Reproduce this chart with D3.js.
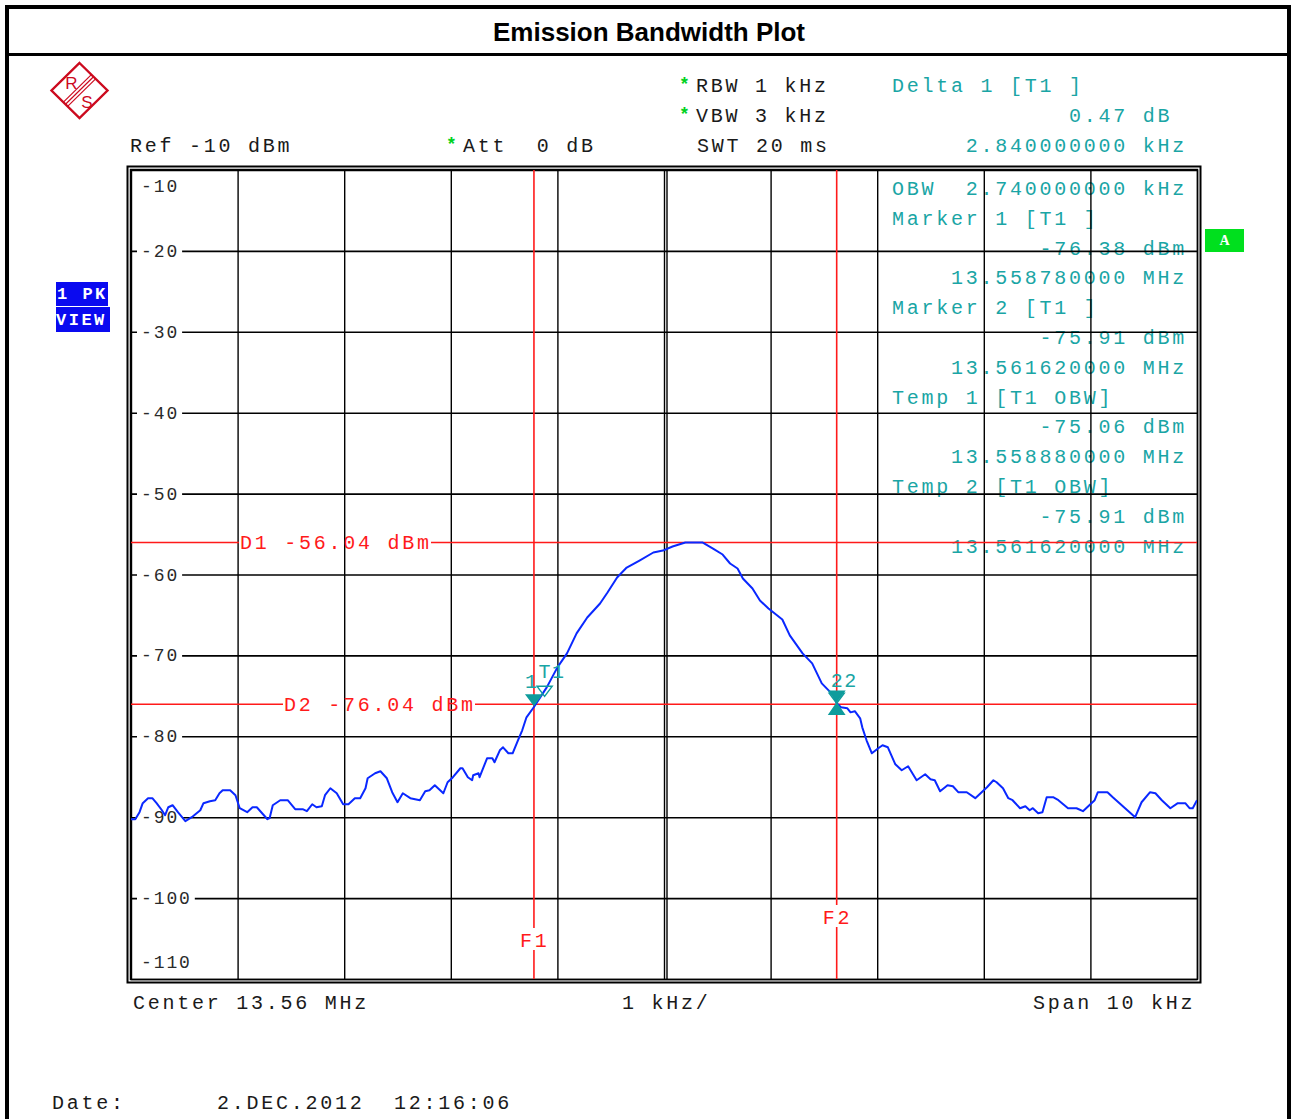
<!DOCTYPE html>
<html>
<head>
<meta charset="utf-8">
<script src="https://cdn.jsdelivr.net/npm/d3@7"></script>
<style>
  html, body { margin: 0; padding: 0; background: #fff; overflow: hidden; }
  svg { display: block; }
  .mono { font-family: "Liberation Mono", "DejaVu Sans Mono", monospace; white-space: pre; }
</style>
</head>
<body>
<svg id="chart" width="1293" height="1119"></svg>
<script>
// ---- Sweep settings ----
const centerMHz = 13.56;
const spanKHz = 10;
const levelTicks = [-10, -20, -30, -40, -50, -60, -70, -80, -90, -100, -110];

// ---- Trace (offset from center in kHz, level in dBm) ----
const traceOffsetKHz = [
  -5.00, -4.96, -4.92, -4.89, -4.84, -4.80, -4.76, -4.71, -4.68, -4.65,
  -4.61, -4.56, -4.49, -4.43, -4.35, -4.32, -4.26, -4.21, -4.17, -4.14,
  -4.07, -4.02, -3.98, -3.91, -3.86, -3.82, -3.77, -3.72, -3.70, -3.67,
  -3.60, -3.53, -3.46, -3.39, -3.35, -3.30, -3.26, -3.21, -3.18, -3.13,
  -3.07, -3.01, -2.96, -2.90, -2.85, -2.80, -2.78, -2.71, -2.66, -2.60,
  -2.55, -2.50, -2.45, -2.38, -2.29, -2.24, -2.20, -2.15, -2.07, -2.03,
  -1.98, -1.91, -1.89, -1.84, -1.80, -1.79, -1.74, -1.73, -1.66, -1.61,
  -1.59, -1.54, -1.51, -1.46, -1.42, -1.37, -1.33, -1.29, -1.22, -1.18,
  -1.10, -1.00, -0.91, -0.82, -0.72, -0.60, -0.53, -0.44, -0.35, -0.23,
  -0.10, -0.01, 0.08, 0.20, 0.36, 0.46, 0.55, 0.62, 0.69, 0.74,
  0.83, 0.90, 0.98, 1.11, 1.18, 1.30, 1.39, 1.48, 1.59, 1.62,
  1.66, 1.72, 1.75, 1.79, 1.84, 1.86, 1.90, 1.95, 2.01, 2.05,
  2.10, 2.17, 2.23, 2.29, 2.37, 2.45, 2.50, 2.54, 2.59, 2.66,
  2.71, 2.76, 2.84, 2.92, 2.98, 3.03, 3.09, 3.12, 3.18, 3.23,
  3.27, 3.34, 3.39, 3.43, 3.46, 3.51, 3.55, 3.59, 3.65, 3.70,
  3.79, 3.87, 3.93, 4.04, 4.07, 4.16, 4.21, 4.42, 4.48, 4.56,
  4.61, 4.67, 4.75, 4.82, 4.89, 4.93, 4.96, 5.00
];
const traceLevelDbm = [
  -90.25, -90.25, -89.38, -88.27, -87.65, -87.65, -88.27, -89.14, -89.75, -88.77,
  -88.52, -89.38, -90.49, -90.00, -89.14, -88.27, -88.02, -87.90, -87.04, -86.67,
  -86.67, -87.28, -88.89, -89.38, -88.77, -88.77, -89.51, -90.25, -90.12, -88.52,
  -87.90, -87.90, -89.01, -89.01, -89.26, -88.40, -88.77, -88.64, -87.28, -86.42,
  -87.04, -88.40, -88.40, -87.65, -87.65, -86.42, -85.19, -84.57, -84.32, -85.19,
  -86.91, -88.15, -87.04, -87.65, -87.90, -86.79, -86.67, -86.05, -87.04, -85.68,
  -85.06, -83.95, -83.95, -85.06, -85.43, -84.81, -84.57, -85.06, -82.72, -82.72,
  -83.21, -81.73, -81.36, -82.10, -82.10, -80.49, -79.26, -77.65, -76.38, -75.56,
  -73.95, -71.48, -69.75, -67.28, -65.31, -63.58, -62.22, -60.37, -59.14, -58.27,
  -57.28, -57.04, -56.54, -56.04, -56.04, -56.79, -57.53, -58.64, -59.26, -60.49,
  -61.73, -63.21, -64.20, -65.56, -67.53, -69.75, -70.99, -73.46, -74.94, -75.91,
  -76.42, -76.54, -77.04, -76.90, -77.78, -78.89, -80.49, -82.10, -81.48, -81.11,
  -81.36, -83.46, -84.20, -83.70, -85.43, -84.69, -85.31, -85.43, -86.79, -86.05,
  -86.17, -86.91, -86.91, -87.65, -86.91, -86.30, -85.43, -85.68, -86.42, -87.65,
  -87.90, -88.89, -88.64, -89.14, -88.89, -89.51, -89.38, -87.53, -87.53, -87.90,
  -88.89, -88.89, -89.26, -87.90, -86.91, -86.91, -87.53, -90.00, -88.15, -86.91,
  -87.04, -87.90, -88.89, -88.27, -88.27, -88.89, -88.89, -87.90
];

// ---- Markers ----
const markerLabels = ["1", "2"];
const markerFreqMHz = [13.55878, 13.56162];
const markerLevelDbm = [-76.38, -75.91];
const tempFreqMHz = [13.55888, 13.56162];
const tempLevelDbm = [-75.06, -75.91];
const deltaKHz = 2.84;
const deltaDb = 0.47;

// ---- Display / frequency lines ----
const displayLineNames = ["D1", "D2"];
const displayLineDbm = [-56.04, -76.04];
const freqLineNames = ["F1", "F2"];
const freqLineMHz = [13.55878, 13.56162];

// ---- Marker readout lines ([text, column]) ----
const readoutAbove = [
  ["Delta 1 [T1 ]", 0], ["0.47 dB", 12], ["2.840000000 kHz", 5]
];
const readoutInside = [
  ["OBW  2.740000000 kHz", 0],
  ["Marker 1 [T1 ]", 0], ["-76.38 dBm", 10], ["13.558780000 MHz", 4],
  ["Marker 2 [T1 ]", 0], ["-75.91 dBm", 10], ["13.561620000 MHz", 4],
  ["Temp 1 [T1 OBW]", 0], ["-75.06 dBm", 10], ["13.558880000 MHz", 4],
  ["Temp 2 [T1 OBW]", 0], ["-75.91 dBm", 10], ["13.561620000 MHz", 4]
];

// ---- Layout ----
const W = 1293, H = 1119;
const plot = { left: 131, right: 1197, top: 170, bottom: 979 };
const ADV = 14.75;           // monospace character pitch
const FS = 20;               // monospace font size
const LS = ADV - FS * 0.6;   // letter spacing giving that pitch
const TEAL = "#1aa5a5";
const RED = "#ff1a1a";

const svg = d3.select("#chart");

const x = d3.scaleLinear()
  .domain([centerMHz - spanKHz / 2000, centerMHz + spanKHz / 2000])
  .range([plot.left, plot.right]);
const y = d3.scaleLinear()
  .domain([levelTicks[0], levelTicks[levelTicks.length - 1]])
  .range([plot.top, plot.bottom]);

function mono(parent, str, px, baseY, opts = {}) {
  return parent.append("text")
    .attr("class", "mono")
    .attr("x", px)
    .attr("y", baseY)
    .attr("font-size", opts.size || FS)
    .attr("letter-spacing", opts.spacing != null ? opts.spacing : LS)
    .attr("font-weight", opts.weight || "normal")
    .attr("fill", opts.color || "#1a1a1a")
    .text(str);
}

// ---- Page frame and title ----
svg.append("rect").attr("x", 0).attr("y", 0).attr("width", W).attr("height", H).attr("fill", "#fff");
svg.append("rect")
  .attr("x", 7).attr("y", 7).attr("width", 1282).attr("height", 1140)
  .attr("fill", "none").attr("stroke", "#000").attr("stroke-width", 4);
svg.append("line")
  .attr("x1", 7).attr("x2", 1289).attr("y1", 54.5).attr("y2", 54.5)
  .attr("stroke", "#000").attr("stroke-width", 3);
svg.append("text")
  .attr("x", 649).attr("y", 41)
  .attr("text-anchor", "middle")
  .attr("font-family", "'Liberation Sans', Arial, sans-serif")
  .attr("font-weight", "bold")
  .attr("font-size", 26)
  .attr("fill", "#000")
  .text("Emission Bandwidth Plot");

// ---- Logo ----
const logo = svg.append("g").attr("transform", "translate(79.5,90.5)");
const LR = "#cc0a1e";
logo.append("path")
  .attr("d", "M0,-27.5 L28,0 L0,27.5 L-28,0 Z")
  .attr("fill", "none").attr("stroke", LR).attr("stroke-width", 2.4);
[-3, 0, 3].forEach(o => {
  const nx = o * Math.SQRT1_2, ny = o * Math.SQRT1_2;
  logo.append("line")
    .attr("x1", 14 + nx).attr("y1", -13.75 + ny)
    .attr("x2", -14 + nx).attr("y2", 13.75 + ny)
    .attr("stroke", LR).attr("stroke-width", 1.2);
});
logo.append("text").attr("x", -8).attr("y", -2).attr("text-anchor", "middle")
  .attr("font-family", "'Liberation Sans', Arial, sans-serif").attr("font-size", 17)
  .attr("fill", LR).text("R");
logo.append("text").attr("x", 7.5).attr("y", 17).attr("text-anchor", "middle")
  .attr("font-family", "'Liberation Sans', Arial, sans-serif").attr("font-size", 17)
  .attr("fill", LR).text("S");

// ---- Header settings ----
const GREEN = "#00d21e";
mono(svg, "Ref -10 dBm", 130, 152);
mono(svg, "*", 446, 150, { color: GREEN, weight: "bold", size: 18, spacing: 0 });
mono(svg, "Att  0 dB", 463, 152);
mono(svg, "*", 679, 90, { color: GREEN, weight: "bold", size: 18, spacing: 0 });
mono(svg, "RBW 1 kHz", 696, 92);
mono(svg, "*", 679, 120, { color: GREEN, weight: "bold", size: 18, spacing: 0 });
mono(svg, "VBW 3 kHz", 696, 122);
mono(svg, "SWT 20 ms", 697, 152);

// ---- Readout table (drawn under the grid) ----
const readoutLeft = 892;
readoutAbove.forEach(([t, col], i) => mono(svg, t, readoutLeft + col * ADV, 92 + i * 30, { color: TEAL }));
readoutInside.forEach(([t, col], i) => mono(svg, t, readoutLeft + col * ADV, 195 + i * 29.8, { color: TEAL }));

// ---- Trace window badges ----
svg.append("rect").attr("x", 56).attr("y", 282).attr("width", 52).attr("height", 24).attr("fill", "#0a0af0");
svg.append("rect").attr("x", 56).attr("y", 307).attr("width", 54).attr("height", 25).attr("fill", "#0a0af0");
mono(svg, "1 PK", 57, 299, { color: "#fff", weight: "bold", size: 17, spacing: 2.5 });
mono(svg, "VIEW", 56, 325, { color: "#fff", weight: "bold", size: 17, spacing: 2.5 });
svg.append("rect").attr("x", 1205).attr("y", 229).attr("width", 39).attr("height", 23).attr("fill", "#00e01e");
svg.append("text").attr("x", 1224.5).attr("y", 245).attr("text-anchor", "middle")
  .attr("font-family", "'Liberation Serif', serif").attr("font-weight", "bold")
  .attr("font-size", 14).attr("fill", "#fff").text("A");

// ---- Grid via axes ----
const gridX = svg.append("g")
  .attr("transform", `translate(0,${plot.bottom})`)
  .call(d3.axisBottom(x).ticks(10).tickSize(-(plot.bottom - plot.top)).tickFormat(""));
gridX.select(".domain").remove();
gridX.selectAll("line").attr("stroke", "#000").attr("stroke-width", 1.4);

// double line through the center frequency
svg.append("line")
  .attr("x1", x(centerMHz) + 3).attr("x2", x(centerMHz) + 3)
  .attr("y1", plot.top).attr("y2", plot.bottom)
  .attr("stroke", "#000").attr("stroke-width", 1.4);

const gridY = svg.append("g")
  .attr("transform", `translate(${plot.left},0)`)
  .call(d3.axisLeft(y).tickValues(levelTicks).tickSize(-(plot.right - plot.left)).tickFormat(""));
gridY.select(".domain").remove();
gridY.selectAll("line").attr("stroke", "#000").attr("stroke-width", 1.6);

// ---- Level labels ----
const YFS = 18, YADV = 12.7;
levelTicks.forEach((v, i) => {
  const first = i === 0, last = i === levelTicks.length - 1;
  const cy = first ? y(v) + 16 : last ? y(v) - 17 : y(v);
  const lbl = String(v);
  const w = lbl.length * YADV - 2;
  if (!first && !last) {
    svg.append("rect").attr("x", 137).attr("y", cy - 4).attr("width", w + 9).attr("height", 8).attr("fill", "#fff");
  }
  mono(svg, lbl, 141, cy + 6, { size: YFS, spacing: YADV - YFS * 0.6, color: "#2a2a2a" });
});

// ---- Plot frame (double line) ----
svg.append("rect")
  .attr("x", plot.left - 0.5).attr("y", plot.top - 0.5)
  .attr("width", plot.right - plot.left + 1).attr("height", plot.bottom - plot.top + 1)
  .attr("fill", "none").attr("stroke", "#000").attr("stroke-width", 1.5);
svg.append("rect")
  .attr("x", plot.left - 3.5).attr("y", plot.top - 3.5)
  .attr("width", plot.right - plot.left + 7).attr("height", plot.bottom - plot.top + 7)
  .attr("fill", "none").attr("stroke", "#000").attr("stroke-width", 2);

// ---- Display lines D1/D2 ----
const dStart = [240, 284];
displayLineDbm.forEach((v, i) => {
  const yy = y(v);
  const label = `${displayLineNames[i]} ${v.toFixed(2)} dBm`;
  mono(svg, label, dStart[i], yy + 6.5, { color: RED });
  const tw = label.length * ADV - LS;
  svg.append("line").attr("x1", plot.left).attr("x2", dStart[i] - 1).attr("y1", yy).attr("y2", yy)
    .attr("stroke", RED).attr("stroke-width", 1.6);
  svg.append("line").attr("x1", dStart[i] + tw + 2).attr("x2", plot.right).attr("y1", yy).attr("y2", yy)
    .attr("stroke", RED).attr("stroke-width", 1.6);
});

// ---- Frequency lines F1/F2 ----
const fLabelY = [940, 917];
freqLineMHz.forEach((f, i) => {
  const xx = x(f);
  const ly = fLabelY[i];
  svg.append("line").attr("x1", xx).attr("x2", xx).attr("y1", plot.top).attr("y2", ly - 12)
    .attr("stroke", RED).attr("stroke-width", 1.6);
  svg.append("line").attr("x1", xx).attr("x2", xx).attr("y1", ly + 10).attr("y2", plot.bottom)
    .attr("stroke", RED).attr("stroke-width", 1.6);
  mono(svg, freqLineNames[i], xx - 14, ly + 6.5, { color: RED });
});

// ---- Trace ----
const traceData = traceOffsetKHz.map((o, i) => [centerMHz + o / 1000, traceLevelDbm[i]]);
svg.append("defs").append("clipPath").attr("id", "plotClip")
  .append("rect").attr("x", plot.left).attr("y", plot.top)
  .attr("width", plot.right - plot.left).attr("height", plot.bottom - plot.top);
svg.append("path")
  .datum(traceData)
  .attr("clip-path", "url(#plotClip)")
  .attr("fill", "none")
  .attr("stroke", "#0a28ff")
  .attr("stroke-width", 2)
  .attr("stroke-linejoin", "round")
  .attr("d", d3.line().x(d => x(d[0])).y(d => y(d[1])));

// ---- Marker symbols ----
const MK = "#0f9c9c";
function downTri(px, py, filled) {
  svg.append("path")
    .attr("d", `M${px - 7.5},${py - 10} L${px + 7.5},${py - 10} L${px},${py} Z`)
    .attr("fill", filled ? MK : "none").attr("stroke", MK).attr("stroke-width", 1.5);
}
function upTri(px, py) {
  svg.append("path")
    .attr("d", `M${px - 7.5},${py + 11} L${px + 7.5},${py + 11} L${px},${py} Z`)
    .attr("fill", MK).attr("stroke", MK).attr("stroke-width", 1.5);
}
// temporary OBW markers (hollow)
tempFreqMHz.forEach((f, i) => downTri(x(f), y(tempLevelDbm[i]), false));
// normal markers (filled)
markerFreqMHz.forEach((f, i) => downTri(x(f), y(markerLevelDbm[i]) - 2, true));
// delta marker relative to marker 1
const deltaF = markerFreqMHz[0] + deltaKHz / 1000;
const deltaL = markerLevelDbm[0] + deltaDb;
upTri(x(deltaF), y(deltaL));

mono(svg, markerLabels[0], x(markerFreqMHz[0]) - 9, 688, { color: TEAL, spacing: 0 });
mono(svg, "T1", x(tempFreqMHz[0]) - 6, 678, { color: TEAL, spacing: 1.5 });
mono(svg, markerLabels[1] + markerLabels[1], x(markerFreqMHz[1]) - 6, 687, { color: TEAL, spacing: 1.5 });

// ---- Footer ----
mono(svg, "Center 13.56 MHz", 133, 1009);
mono(svg, "1 kHz/", 622, 1009);
mono(svg, "Span 10 kHz", 1033, 1009);
mono(svg, "Date:", 52, 1109);
mono(svg, "2.DEC.2012  12:16:06", 217, 1109);
</script>
</body>
</html>
